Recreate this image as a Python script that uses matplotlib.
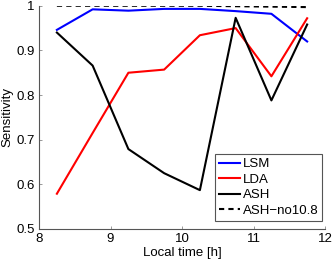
import matplotlib
matplotlib.use("Agg")
import matplotlib.pyplot as plt

hours = [8.25, 8.75, 9.25, 9.75, 10.25, 10.75, 11.25, 11.75]
lsm = [0.946, 0.992, 0.989, 0.993, 0.993, 0.988, 0.982, 0.920]
lda = [0.579, 0.715, 0.850, 0.857, 0.934, 0.950, 0.842, 0.972]
ash = [0.940, 0.866, 0.679, 0.625, 0.587, 0.973, 0.788, 0.958]
ash_no108 = [1.000, 1.000, 1.000, 1.000, 1.000, 0.999, 0.998, 0.997]

plt.rcParams.update({
    "font.family": ["Liberation Sans", "DejaVu Sans"],
    "font.size": 9.5,
})

fig = plt.figure(figsize=(3.32, 2.62), dpi=100)
ax = fig.add_axes([0.1175, 0.126, 0.8615, 0.852])

ax.plot(hours, lsm, color="#0000ff", lw=1.5, label="LSM")
ax.plot(hours, lda, color="#ff0000", lw=1.5, label="LDA")
ax.plot(hours, ash, color="black", lw=1.5, label="ASH")
ax.plot(hours, ash_no108, color="black", lw=1.5, ls=(0, (2.5, 2)), label="ASH\u2212no10.8")

ax.set_xlim(8, 12)
ax.set_ylim(0.5, 1.0)
ax.set_xticks([8, 9, 10, 11, 12])
ax.set_yticks([0.5, 0.6, 0.7, 0.8, 0.9, 1.0])
ax.set_yticklabels(["0.5", "0.6", "0.7", "0.8", "0.9", "1"])
ax.set_xlabel("Local time [h]", labelpad=1)
ax.set_ylabel("Sensitivity", labelpad=2)

for side in ("top", "right"):
    ax.spines[side].set_visible(False)
for side in ("left", "bottom"):
    ax.spines[side].set_color("#555555")
    ax.spines[side].set_linewidth(0.8)
ax.tick_params(direction="in", length=2.5, width=0.6, color="#888888", pad=3)

leg = ax.legend(loc="lower right", bbox_to_anchor=(0.99, 0.036), borderaxespad=0,
                fancybox=False, edgecolor="#555555", framealpha=1,
                handlelength=1.6, handletextpad=0.2, labelspacing=0.25,
                borderpad=0.3)
leg.get_frame().set_linewidth(0.8)

fig.savefig("out.png", dpi=100)
